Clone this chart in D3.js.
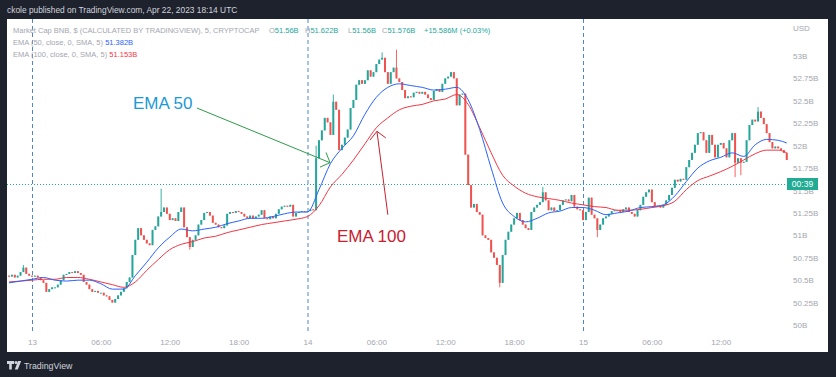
<!DOCTYPE html>
<html lang="en">
<head>
<meta charset="UTF-8">
<script src="https://d3js.org/d3.v7.min.js"></script>
<style>
    html, body { margin: 0; background: #1e222d; overflow: hidden; }
    text { font-family: "Liberation Sans", Arial, sans-serif; }
</style>
<title>BNB market cap</title>
</head>
<body>
<svg id="svg"></svg>
<script>
// 15 minute candles starting Apr 12 22:00 UTC, closes in billions USD (one line = one hour)
const startTime = Date.UTC(2023, 3, 12, 22, 0);
const candleMinutes = 15;
const firstOpen = 50.55;
const closes = [
    50.54, 50.56, 50.53, 50.55,  50.59, 50.64, 50.57, 50.55,
    50.54, 50.55, 50.53, 50.50,  50.47, 50.37, 50.40, 50.42,
    50.42, 50.45, 50.50, 50.56,  50.57, 50.59, 50.58, 50.60,
    50.58, 50.56, 50.48, 50.45,  50.40, 50.37, 50.38, 50.36,
    50.36, 50.33, 50.32, 50.28,  50.25, 50.29, 50.33, 50.37,
    50.41, 50.48, 50.53, 50.78,  50.95, 51.08, 51.00, 50.95,
    50.91, 50.89, 51.06, 51.10,  51.21, 51.26, 51.31, 51.24,
    51.17, 51.19, 51.16, 51.26,  51.31, 51.09, 50.98, 50.87,
    50.95, 51.00, 51.12, 51.17,  51.25, 51.26, 51.22, 51.14,
    51.12, 51.09, 51.08, 51.11,  51.24, 51.26, 51.25, 51.27,
    51.26, 51.24, 51.21, 51.19,  51.22, 51.19, 51.21, 51.23,
    51.28, 51.19, 51.18, 51.21,  51.19, 51.24, 51.29, 51.32,
    51.33, 51.32, 51.34, 51.21,  51.25, 51.26, 51.27, 51.26,
    51.27, 51.29, 51.28, 51.86,  52.06, 52.17, 52.31, 52.26,
    52.12, 52.49, 52.40, 51.95,  52.01, 52.09, 52.18, 52.42,
    52.51, 52.68, 52.73, 52.69,  52.73, 52.84, 52.77, 52.82,
    52.91, 52.96, 52.98, 52.82,  52.69, 52.82, 52.87, 52.75,
    52.71, 52.62, 52.53, 52.55,  52.54, 52.59, 52.60, 52.58,
    52.60, 52.57, 52.53, 52.51,  52.61, 52.63, 52.60, 52.69,
    52.75, 52.77, 52.82, 52.75,  52.45, 52.57, 52.58, 51.90,
    51.56, 51.31, 51.35, 51.26,  51.23, 51.00, 50.97, 50.95,
    50.81, 50.75, 50.67, 50.47,  50.78, 50.95, 51.04, 51.12,
    51.19, 51.25, 51.17, 51.12,  51.08, 51.06, 51.26, 51.31,
    51.34, 51.37, 51.48, 51.39,  51.28, 51.31, 51.27, 51.28,
    51.34, 51.39, 51.40, 51.38,  51.45, 51.32, 51.29, 51.28,
    51.17, 51.26, 51.42, 51.23,  51.19, 51.06, 51.12, 51.19,
    51.21, 51.24, 51.27, 51.28,  51.28, 51.26, 51.29, 51.31,
    51.26, 51.24, 51.21, 51.28,  51.34, 51.43, 51.48, 51.51,
    51.37, 51.32, 51.33, 51.31,  51.34, 51.39, 51.45, 51.53,
    51.62, 51.60, 51.63, 51.62,  51.76, 51.84, 51.92, 52.01,
    52.14, 52.15, 52.06, 51.92,  52.12, 52.01, 51.87, 52.01,
    52.03, 51.97, 51.87, 52.06,  52.14, 51.81, 51.86, 51.81,
    51.82, 52.06, 52.23, 52.29,  52.27, 52.38, 52.31, 52.24,
    52.14, 52.04, 51.97, 51.99,  51.97, 51.95, 51.92, 51.84
];
// [candle index, wick extreme] for the long shadows
const wicks = [
    [5, 50.67], [53, 51.52], [63, 50.84], [107, 52.0], [113, 52.57],
    [130, 53.04], [135, 53.07], [171, 50.42], [186, 51.54], [205, 50.98],
    [253, 51.65], [255, 51.67], [261, 52.43]
];
// hourly EMA readings, last value at the last candle
const ema50 = [
    50.47, 50.49, 50.51, 50.53, 50.50, 50.49, 50.50, 50.50, 50.46, 50.40,
    50.40, 50.55, 50.70, 50.86, 50.98, 51.07, 51.05, 51.07, 51.09, 51.13,
    51.16, 51.19, 51.19, 51.21, 51.24, 51.26, 51.26, 51.51, 51.80, 51.97,
    52.11, 52.35, 52.54, 52.65, 52.69, 52.67, 52.65, 52.62, 52.63, 52.65,
    52.51, 52.18, 51.75, 51.36, 51.21, 51.15, 51.19, 51.25, 51.27, 51.31,
    51.31, 51.28, 51.23, 51.25, 51.27, 51.31, 51.32, 51.34, 51.44, 51.60,
    51.75, 51.83, 51.87, 51.92, 51.88, 52.01, 52.07, 52.06, 52.03
];
const ema100 = [
    50.48, 50.49, 50.50, 50.51, 50.51, 50.53, 50.53, 50.51, 50.48, 50.45,
    50.42, 50.48, 50.61, 50.73, 50.84, 50.90, 50.93, 50.97, 50.99, 51.03,
    51.06, 51.09, 51.12, 51.14, 51.16, 51.18, 51.21, 51.33, 51.54, 51.68,
    51.84, 52.02, 52.20, 52.31, 52.40, 52.44, 52.46, 52.50, 52.52, 52.57,
    52.46, 52.20, 51.92, 51.67, 51.55, 51.47, 51.43, 51.41, 51.39, 51.36,
    51.34, 51.32, 51.31, 51.28, 51.28, 51.29, 51.31, 51.33, 51.38, 51.51,
    51.61, 51.66, 51.71, 51.77, 51.84, 51.91, 51.95, 51.95, 51.92
];
const yTicks = [50, 50.25, 50.5, 50.75, 51, 51.25, 51.5, 51.75, 52, 52.25, 52.5, 52.75, 53];
const xTickTimes = ["2023-04-13T00:00Z", "2023-04-13T06:00Z", "2023-04-13T12:00Z", "2023-04-13T18:00Z",
    "2023-04-14T00:00Z", "2023-04-14T06:00Z", "2023-04-14T12:00Z", "2023-04-14T18:00Z",
    "2023-04-15T00:00Z", "2023-04-15T06:00Z", "2023-04-15T12:00Z"];
const xTickLabels = ["13", "06:00", "12:00", "18:00", "14", "06:00", "12:00", "18:00", "15", "06:00", "12:00"];
const daySeparators = ["2023-04-13T00:00Z", "2023-04-14T00:00Z", "2023-04-15T00:00Z"];
const lastPrice = 51.576;

const width = 836, height = 377;
const svg = d3.select("#svg").attr("width", width).attr("height", height);
const panel = { left: 7, top: 19, right: 828, bottom: 352 };
const plotRight = 789;

const x = d3.scaleUtc()
    .domain([new Date("2023-04-13T00:00Z"), new Date("2023-04-15T00:00Z")])
    .range([32, 583]);
const y = d3.scaleLinear().domain([50, 53]).range([325, 56]);

const candles = closes.map((c, i) => {
    const o = i === 0 ? firstOpen : closes[i - 1];
    return { t: new Date(startTime + i * candleMinutes * 60000), o, c, h: Math.max(o, c), l: Math.min(o, c) };
});
wicks.forEach(([i, v]) => {
    candles[i].h = Math.max(candles[i].h, v);
    candles[i].l = Math.min(candles[i].l, v);
});
const emaTime = (i, n) => i < n - 1 ? new Date(startTime + i * 3600000) : candles[candles.length - 1].t;
const emaPts = arr => arr.map((v, i) => ({ t: emaTime(i, arr.length), v }));

// header + white chart panel
svg.append("text").attr("x", 7).attr("y", 13).attr("fill", "#d1d4dc").attr("font-size", 8.4)
    .text("ckole published on TradingView.com, Apr 22, 2023 18:14 UTC");
svg.append("rect").attr("x", panel.left).attr("y", panel.top)
    .attr("width", panel.right - panel.left).attr("height", panel.bottom - panel.top).attr("fill", "#fff");

svg.append("clipPath").attr("id", "plot").append("rect")
    .attr("x", panel.left).attr("y", panel.top).attr("width", plotRight - panel.left).attr("height", 316);
const g = svg.append("g").attr("clip-path", "url(#plot)");

g.selectAll("line.day").data(daySeparators).join("line").attr("class", "day")
    .attr("x1", d => x(new Date(d)) + 0.5).attr("x2", d => x(new Date(d)) + 0.5)
    .attr("y1", panel.top).attr("y2", 334)
    .attr("stroke", "#4f86c6").attr("stroke-dasharray", "4,3");

g.append("line").attr("x1", panel.left).attr("x2", plotRight)
    .attr("y1", Math.round(y(lastPrice)) + 0.5).attr("y2", Math.round(y(lastPrice)) + 0.5)
    .attr("stroke", "#26a69a").attr("stroke-dasharray", "1,2");

const up = "#26a69a", down = "#ef5350";
g.selectAll("line.wick").data(candles).join("line").attr("class", "wick")
    .attr("x1", d => x(d.t)).attr("x2", d => x(d.t))
    .attr("y1", d => y(d.h)).attr("y2", d => y(d.l))
    .attr("stroke", d => d.c >= d.o ? up : down).attr("stroke-width", 0.9);
g.selectAll("rect.body").data(candles).join("rect").attr("class", "body")
    .attr("x", d => x(d.t) - 1).attr("width", 2)
    .attr("y", d => y(Math.max(d.o, d.c)))
    .attr("height", d => Math.max(1, Math.abs(y(d.o) - y(d.c))))
    .attr("fill", d => d.c >= d.o ? up : down);

const line = d3.line().x(d => x(d.t)).y(d => y(d.v)).curve(d3.curveMonotoneX);
g.append("path").datum(emaPts(ema100)).attr("d", line).attr("fill", "none").attr("stroke", "#f23645").attr("stroke-width", 1);
g.append("path").datum(emaPts(ema50)).attr("d", line).attr("fill", "none").attr("stroke", "#2962ff").attr("stroke-width", 1);

// hand drawn annotations
const annotations = [
    { label: "EMA 50", color: "#1a9ad6", arrow: "#2e9b4a", tx: 133, ty: 109,
      from: ["2023-04-13T14:22Z", 52.42], to: ["2023-04-14T01:58Z", 51.81] },
    { label: "EMA 100", color: "#c8202f", arrow: "#c8202f", tx: 337, ty: 242,
      from: ["2023-04-14T07:00Z", 51.23], to: ["2023-04-14T06:03Z", 52.16] }
];
annotations.forEach(a => {
    const x1 = x(new Date(a.from[0])), y1 = y(a.from[1]);
    const x2 = x(new Date(a.to[0])), y2 = y(a.to[1]);
    const ang = Math.atan2(y1 - y2, x1 - x2);
    const arm = s => [x2 + 11 * Math.cos(ang + s), y2 + 11 * Math.sin(ang + s)];
    const [ax, ay] = arm(0.8), [bx, by] = arm(-0.8);
    svg.append("path")
        .attr("d", `M${x1},${y1}L${x2},${y2}M${ax},${ay}L${x2},${y2}L${bx},${by}`)
        .attr("fill", "none").attr("stroke", a.arrow).attr("stroke-width", 1);
    svg.append("text").attr("x", a.tx).attr("y", a.ty).attr("fill", a.color)
        .attr("font-size", 17).text(a.label);
});

// legend
const gray = "#a3a6af", green = "#26a69a";
const leg = svg.append("g").attr("font-size", 7.5);
leg.append("text").attr("x", 13).attr("y", 33).attr("fill", gray)
    .text("Market Cap BNB, $ (CALCULATED BY TRADINGVIEW), 5, CRYPTOCAP");
[["O", "51.56B", 269], ["H", "51.622B", 305], ["L", "51.56B", 348], ["C", "51.576B", 382]].forEach(([k, v, px]) => {
    const t = leg.append("text").attr("x", px).attr("y", 33);
    t.append("tspan").attr("fill", gray).text(k);
    t.append("tspan").attr("fill", green).text(v);
});
leg.append("text").attr("x", 424).attr("y", 33).attr("fill", green).text("+15.586M (+0.03%)");
const l2 = leg.append("text").attr("x", 13).attr("y", 45);
l2.append("tspan").attr("fill", gray).text("EMA (50, close, 0, SMA, 5) ");
l2.append("tspan").attr("fill", "#2962ff").text(" 51.382B");
const l3 = leg.append("text").attr("x", 13).attr("y", 57);
l3.append("tspan").attr("fill", gray).text("EMA (100, close, 0, SMA, 5) ");
l3.append("tspan").attr("fill", "#f23645").text(" 51.153B");

// axes
const yAxis = svg.append("g").attr("transform", "translate(793,0)")
    .call(d3.axisRight(y).tickValues(yTicks).tickSize(0).tickPadding(0).tickFormat(d => `${+d.toFixed(2)}B`));
const xAxis = svg.append("g").attr("transform", "translate(0,336)")
    .call(d3.axisBottom(x).tickValues(xTickTimes.map(d => new Date(d))).tickSize(0).tickPadding(3)
        .tickFormat((d, i) => xTickLabels[i]));
[yAxis, xAxis].forEach(a => {
    a.select(".domain").remove();
    a.selectAll("text").attr("fill", gray).attr("font-size", 8).attr("font-family", "Liberation Sans, Arial, sans-serif");
});
svg.append("text").attr("x", 793).attr("y", 31).attr("fill", gray).attr("font-size", 8).text("USD");

// countdown label on the last price
const ly = Math.round(y(lastPrice));
svg.append("rect").attr("x", 787).attr("y", ly - 6).attr("width", 31).attr("height", 12).attr("fill", "#22ab94");
svg.append("text").attr("x", 802.5).attr("y", ly + 3).attr("text-anchor", "middle")
    .attr("fill", "#fff").attr("font-size", 8.5).text("00:39");

// footer logo
const logo = svg.append("g").attr("fill", "#d1d4dc");
logo.append("path").attr("d", "M7,361h7v3h-2.2v5.5h-2.6v-5.5H7z");
logo.append("circle").attr("cx", 16).attr("cy", 362.6).attr("r", 1.5);
logo.append("path").attr("d", "M18,361h3.2l-3.4,8.5h-3z");
svg.append("text").attr("x", 24).attr("y", 369).attr("fill", "#d1d4dc").attr("font-size", 8.8).text("TradingView");
</script>
</body>
</html>
